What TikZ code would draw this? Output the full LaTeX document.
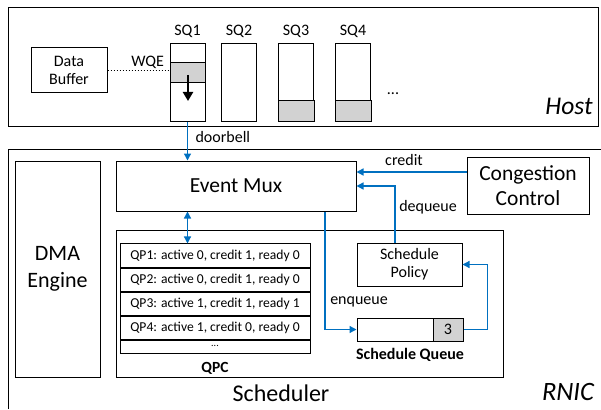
\documentclass[tikz,border=0pt]{standalone}
\usepackage{fontspec}
\setmainfont{Carlito}
\usepackage{xcolor}
\usetikzlibrary{calc}
\usetikzlibrary{arrows.meta}

\definecolor{linkblue}{RGB}{0,112,192}
\definecolor{slotgray}{RGB}{210,210,210}

\tikzset{
    box/.style={draw, line width=1pt, inner sep=0pt, align=center},
    sqbox/.style={box, minimum width=35, minimum height=77},
    qprow/.style={box, minimum width=190, minimum height=23.25, font=\fontsize{13.6}{14}\selectfont},
    link/.style={draw=linkblue, line width=1.3pt, -{Triangle[length=7pt,width=7pt]}},
    biglabel/.style={font=\fontsize{21.5}{23}\selectfont},
    midlabel/.style={font=\fontsize{16}{18}\selectfont},
}

\begin{document}
\begin{tikzpicture}[x=1pt, y=-1pt]
    \useasboundingbox (0,0) rectangle (601,409);

    % Host
    \draw[line width=1pt] (8,8) rectangle (598,126);
    \node[font=\itshape\fontsize{25.5}{27}\selectfont] (hostlabel) at (569,106) {Host};

    \node[box, midlabel, minimum width=76, minimum height=45] (buffer) at (69,70.5) {Data\\Buffer};

    % Send queues
    \node[sqbox] (sq1) at (187.5,82.5) {};
    \node[sqbox] (sq2) at (239,82.5) {};
    \node[sqbox] (sq3) at (296,82.5) {};
    \node[sqbox] (sq4) at (353,82.5) {};
    \foreach \q/\name in {sq1/SQ1, sq2/SQ2, sq3/SQ3, sq4/SQ4}
        \node[midlabel] at ($ (\q.north) + (0,-12) $) {\name};
    \draw[fill=slotgray, line width=1pt] (170,63) rectangle (205,83);
    \draw[fill=slotgray, line width=1pt] (278,100) rectangle (314,121);
    \draw[fill=slotgray, line width=1pt] (335,100) rectangle (371,121);
    \draw[line width=2.5pt, -{Triangle[length=9pt,width=10pt]}] (188,75) -- (188,101);
    \node[midlabel] (moresq) at (393,94) {...};

    % WQE link
    \coordinate (wqe) at (sq1.west |- buffer.east);
    \draw[dotted, line width=1pt] (buffer.east) -- (wqe);
    \node[midlabel, anchor=south east] (wqelabel) at ($ (wqe) + (-2,2) $) {WQE};

    % RNIC
    \draw[line width=1pt] (8,409) -- (8,149) -- (601,149);
    \node[font=\itshape\fontsize{26.5}{28}\selectfont] (rniclabel) at (568,392) {RNIC};

    \node[box, font=\fontsize{22}{27}\selectfont, minimum width=85, minimum height=216] (dma) at (57.5,269) {DMA\\Engine};
    \node[box, biglabel, minimum width=240, minimum height=50] (evmux) at (236,186) {Event Mux};
    \node[box, font=\fontsize{21.5}{25}\selectfont, minimum width=122, minimum height=57] (cc) at (528,185.5) {Congestion\\Control};

    % Scheduler
    \draw[line width=1pt] (116,230) rectangle (503,377);
    \node[font=\fontsize{24}{26}\selectfont] (schedlabel) at (281,393) {Scheduler};

    % QPC table
    \node[qprow] (qp1) at (215,255.6) {QP1: active 0, credit 1, ready 0};
    \node[qprow, anchor=north] (qp2) at (qp1.south) {QP2: active 0, credit 1, ready 0};
    \node[qprow, anchor=north] (qp3) at (qp2.south) {QP3: active 1, credit 1, ready 1};
    \node[qprow, anchor=north] (qp4) at (qp3.south) {QP4: active 1, credit 0, ready 0};
    \node[box, minimum width=190, minimum height=13, anchor=north] (qpdots) at (qp4.south) {};
    \node[font=\fontsize{10}{10}\selectfont] at ($ (qpdots.center) + (0,-2) $) {...};
    \node[font=\bfseries\fontsize{15.5}{17}\selectfont] (qpclabel) at (215,368) {QPC};

    \node[box, midlabel, minimum width=105, minimum height=43] (policy) at (409.5,264.5) {Schedule\\Policy};
    \node[box, minimum width=106, minimum height=23] (queue) at (410,329.5) {};
    \draw[fill=slotgray, line width=1pt] (433,318) rectangle (463,341);
    \node[midlabel] (slot) at (448,329.5) {3};
    \node[font=\bfseries\fontsize{16}{18}\selectfont] (queuelabel) at (410,355) {Schedule Queue};

    % Blue links
    \draw[link] (sq1.south) -- (sq1.south |- evmux.north);
    \node[midlabel, anchor=west] (doorbell) at (192,137) {doorbell};
    \draw[link, {Triangle[length=7pt,width=7pt]}-{Triangle[length=7pt,width=7pt]}] (sq1.south |- evmux.south) -- (sq1.south |- qp1.north);
    \draw[link] ([yshift=13.5pt]cc.west) -- ([yshift=13.5pt]cc.west -| evmux.east);
    \node[midlabel] (credit) at (404,160) {credit};
    \draw[link] ([xshift=-14.5pt]policy.north) |- (evmux.east);
    \node[midlabel] (dequeue) at (428,207) {dequeue};
    \draw[link] ([xshift=89pt]evmux.south) |- (queue.west);
    \node[midlabel] (enqueue) at (359,302) {enqueue};
    \draw[link] (queue.east) -- ++(24,0) |- (policy.east);

\end{tikzpicture}
\end{document}
